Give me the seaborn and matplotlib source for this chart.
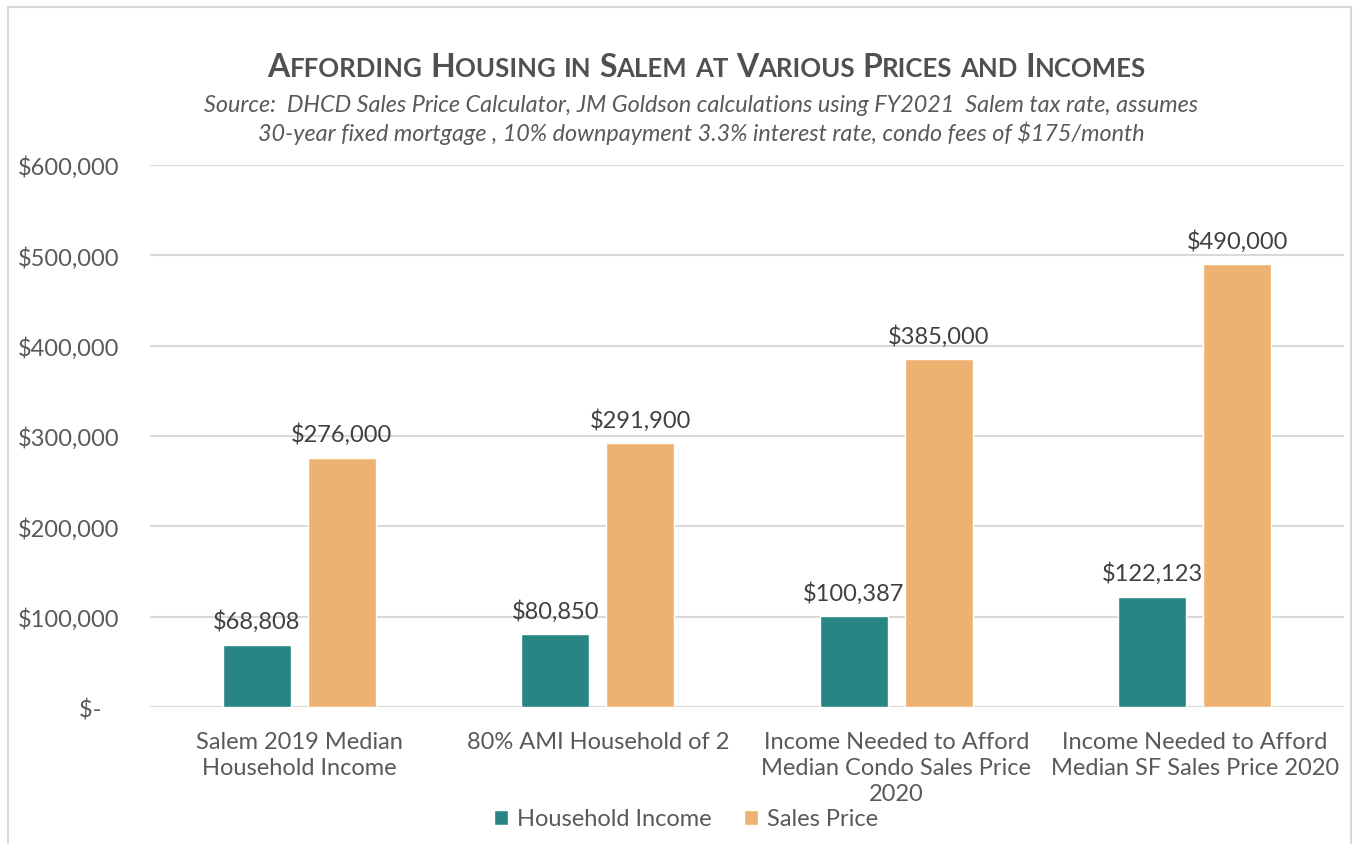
import matplotlib
matplotlib.use("Agg")
import matplotlib.pyplot as plt
from matplotlib.patches import Rectangle, Patch
from matplotlib.ticker import FuncFormatter
import seaborn as sns
import pandas as pd

# Chart data
categories = [
    "Salem 2019 Median\nHousehold Income",
    "80% AMI Household of 2",
    "Income Needed to Afford\nMedian Condo Sales Price\n2020",
    "Income Needed to Afford\nMedian SF Sales Price 2020",
]
household_income = [68808, 80850, 100387, 122123]
sales_price = [276000, 291900, 385000, 490000]
series_names = ["Household Income", "Sales Price"]
y_ticks = [0, 100000, 200000, 300000, 400000, 500000, 600000]

TEAL = "#278584"
ORANGE = "#EDB172"
TEXT = "#595959"
GRID = "#D9D9D9"
FS = 17

df = pd.DataFrame({
    "category": categories * 2,
    "series": [series_names[0]] * len(categories) + [series_names[1]] * len(categories),
    "value": household_income + sales_price,
})

sns.set_theme(style="white")
plt.rcParams["font.family"] = ["Lato", "DejaVu Sans"]

W, H = 1354, 845
fig = plt.figure(figsize=(W / 100, H / 100), dpi=100)
ax = fig.add_axes([150 / W, 1 - 708 / H, (1344 - 150) / W, (708 - 166) / H])

sns.barplot(
    data=df, x="category", y="value", hue="series",
    palette=[TEAL, ORANGE], width=0.57, gap=0.2,
    order=categories, hue_order=series_names,
    ax=ax, legend=False, saturation=1, errorbar=None,
)

ax.set_ylim(0, 600000)
ax.set_xlim(-0.5, len(categories) - 0.5)
ax.set_yticks(y_ticks)
ax.yaxis.set_major_formatter(
    FuncFormatter(lambda v, p: "$-   " if v == 0 else f"${v:,.0f}")
)
ax.grid(axis="y", color=GRID, linewidth=1.5)
ax.set_axisbelow(True)
for s in ["top", "right", "left", "bottom"]:
    ax.spines[s].set_visible(False)
ax.tick_params(axis="y", length=0, pad=22, labelsize=FS, labelcolor=TEXT)
ax.tick_params(axis="x", length=0, pad=17, labelsize=FS, labelcolor=TEXT)
ax.set_xlabel("")
ax.set_ylabel("")
for lbl in ax.get_xticklabels():
    lbl.set_linespacing(1.32)

# Value labels over each bar
for container in ax.containers:
    ax.bar_label(container, labels=[f"${v:,.0f}" for v in container.datavalues],
                 padding=9, fontsize=FS, color="#404040")

# Legend below the plot
handles = [Patch(facecolor=TEAL), Patch(facecolor=ORANGE)]
fig.legend(handles, series_names, loc="center", bbox_to_anchor=(686 / W, 1 - 820 / H),
           ncol=2, frameon=False, fontsize=FS, handlelength=0.6, handleheight=0.6,
           handletextpad=0.35, columnspacing=1.4, labelcolor=TEXT)

# Chart border
fig.patches.append(Rectangle((8 / W, -0.01), (1351 - 8) / W, 1 - 8 / H + 0.01,
                             transform=fig.transFigure, fill=False,
                             edgecolor=GRID, linewidth=1.5))

# Small-caps title assembled from pieces
words = ["Affording", "Housing", "in", "Salem", "at", "Various", "Prices", "and", "Incomes"]
lower_words = {"in", "at", "and"}
big, small = 23, 18.5
pieces = []
for i, w in enumerate(words):
    if w in lower_words:
        pieces.append((w.upper(), small))
    else:
        pieces.append((w[0].upper(), big))
        pieces.append((w[1:].upper(), small))
    if i < len(words) - 1:
        pieces.append((" ", big))

renderer = fig.canvas.get_renderer()
title_y = 1 - 77 / H
objs = []
widths = []
for txt, size in pieces:
    t = fig.text(0, title_y, txt, fontsize=size, fontweight="bold", color="#505050",
                 va="baseline", ha="left")
    if txt == " ":
        t.set_text("a a")
        w_aa = t.get_window_extent(renderer).width
        t.set_text("aa")
        w_a = t.get_window_extent(renderer).width
        t.set_text(" ")
        widths.append(w_aa - w_a)
    else:
        widths.append(t.get_window_extent(renderer).width)
    objs.append(t)
total = sum(widths)
x = 707 - total / 2
for t, w in zip(objs, widths):
    t.set_x(x / W)
    x += w

sub1 = "Source:  DHCD Sales Price Calculator, JM Goldson calculations using FY2021  Salem tax rate, assumes"
sub2 = "30-year fixed mortgage , 10% downpayment 3.3% interest rate, condo fees of $175/month"
fig.text(701 / W, 1 - 112 / H, sub1, ha="center", va="baseline", fontsize=16.8,
         style="italic", color=TEXT)
fig.text(701 / W, 1 - 141 / H, sub2, ha="center", va="baseline", fontsize=16.8,
         style="italic", color=TEXT)

fig.savefig("out.png", dpi=100, facecolor="white")
